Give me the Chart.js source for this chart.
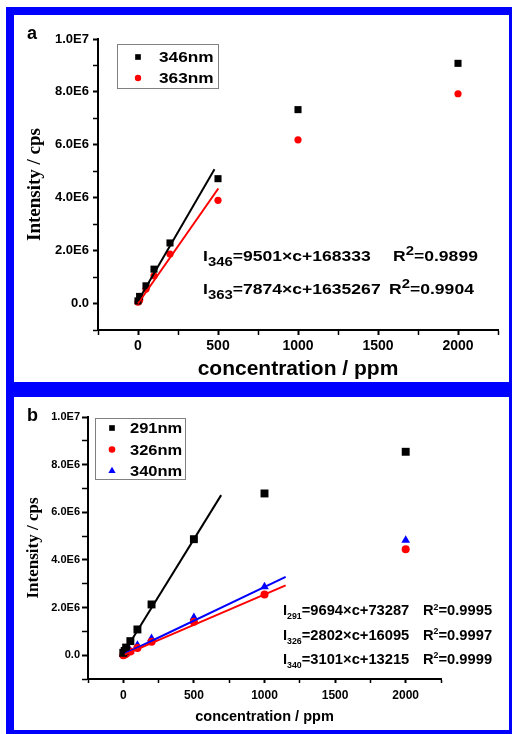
<!DOCTYPE html>
<html>
<head>
<meta charset="utf-8">
<script src="https://cdn.jsdelivr.net/npm/chart.js@4.4.0/dist/chart.umd.min.js"></script>
<style>
  html, body { margin: 0; padding: 0; background: #fff; }
  body { width: 512px; height: 734px; position: relative; overflow: hidden; }
  #frame { position: absolute; left: 6px; top: 7px; width: 506px; height: 727px; background: #0000ff; }
  .panel { position: absolute; left: 14px; width: 495px; background: #fff; }
  #panelA { top: 15px; height: 367px; }
  #panelB { top: 397px; height: 333px; }
  canvas { display: block; }
</style>
</head>
<body>
<div id="frame"></div>
<div class="panel" id="panelA"><canvas id="chartA" width="495" height="367"></canvas></div>
<div class="panel" id="panelB"><canvas id="chartB" width="495" height="333"></canvas></div>
<script>
// panel a - 346 / 363 nm
const concA = [0, 10, 50, 100, 200, 500, 1000, 2000];
const int346 = [0.10e6, 0.27e6, 0.67e6, 1.30e6, 2.29e6, 4.72e6, 7.33e6, 9.08e6];
const int363 = [0.05e6, 0.12e6, 0.55e6, 1.05e6, 1.87e6, 3.90e6, 6.19e6, 7.93e6];
const fit346 = [[0, 0.10e6], [478, 5.08e6]];
const fit363 = [[0, 0.0], [502, 4.35e6]];

// panel b - 291 / 326 / 340 nm
const concB = [0, 10, 20, 50, 100, 200, 500, 1000, 2000];
const int291 = [0.10e6, 0.18e6, 0.32e6, 0.59e6, 1.08e6, 2.13e6, 4.87e6, 6.79e6, 8.54e6];
const int326 = [0.0, 0.03e6, 0.06e6, 0.15e6, 0.30e6, 0.56e6, 1.40e6, 2.55e6, 4.45e6];
const int340 = [0.03e6, 0.06e6, 0.09e6, 0.18e6, 0.42e6, 0.70e6, 1.58e6, 2.87e6, 4.83e6];
const fit291 = [[0, 0.07e6], [693, 6.72e6]];
const fit326 = [[10, 0.02e6], [1150, 2.93e6]];
const fit340 = [[10, 0.06e6], [1150, 3.29e6]];

const xTickValues = [0, 500, 1000, 1500, 2000];
const xTickLabels = ['0', '500', '1000', '1500', '2000'];
const yTickValues = [0, 2e6, 4e6, 6e6, 8e6, 1e7];
const yTickLabels = ['0.0', '2.0E6', '4.0E6', '6.0E6', '8.0E6', '1.0E7'];

// equation text, split in runs: '' normal, 'sub', 'sup'
const eqA = [
  [['I', ''], ['346', 'sub'], ['=9501×c+168333', '']],
  [['I', ''], ['363', 'sub'], ['=7874×c+1635267', '']]
];
const r2A = [
  [['R', ''], ['2', 'sup'], ['=0.9899', '']],
  [['R', ''], ['2', 'sup'], ['=0.9904', '']]
];
const eqB = [
  [['I', ''], ['291', 'sub'], ['=9694×c+73287', '']],
  [['I', ''], ['326', 'sub'], ['=2802×c+16095', '']],
  [['I', ''], ['340', 'sub'], ['=3101×c+13215', '']]
];
const r2B = [
  [['R', ''], ['2', 'sup'], ['=0.9995', '']],
  [['R', ''], ['2', 'sup'], ['=0.9997', '']],
  [['R', ''], ['2', 'sup'], ['=0.9999', '']]
];

const SANS = '"Liberation Sans", Arial, sans-serif';
const SERIF = '"Liberation Serif", "Times New Roman", serif';

function pts(xs, ys) {
  return xs.map(function (x, i) { return { x: x, y: ys[i] }; });
}
function seg(p) {
  return p.map(function (q) { return { x: q[0], y: q[1] }; });
}

function drawMarker(ctx, style, x, y, r) {
  ctx.beginPath();
  if (style === 'rect') {
    const s = r * Math.SQRT1_2;
    ctx.rect(x - s, y - s, 2 * s, 2 * s);
  } else if (style === 'triangle') {
    ctx.moveTo(x, y - r);
    ctx.lineTo(x + r * 0.866, y + r * 0.5);
    ctx.lineTo(x - r * 0.866, y + r * 0.5);
    ctx.closePath();
  } else {
    ctx.arc(x, y, r, 0, Math.PI * 2);
  }
  ctx.fill();
}

function drawRich(ctx, parts, x, y, f) {
  ctx.save();
  ctx.translate(x, y);
  ctx.scale(f.sx, 1);
  let cx = 0;
  parts.forEach(function (p) {
    let size = f.size, dy = 0;
    if (p[1] === 'sub') { size = f.size * f.subScale; dy = f.subDy; }
    if (p[1] === 'sup') { size = f.size * f.supScale; dy = f.supDy; }
    ctx.font = 'bold ' + size + 'px ' + SANS;
    ctx.fillText(p[0], cx, dy);
    cx += ctx.measureText(p[0]).width;
  });
  ctx.restore();
}

// panel letter, framed legend and fit equations
const panelDecor = {
  id: 'panelDecor',
  afterDraw: function (chart, args, o) {
    const ctx = chart.ctx;
    ctx.save();
    ctx.fillStyle = '#000';
    ctx.textBaseline = 'alphabetic';
    ctx.textAlign = 'left';
    ctx.font = 'bold 18px ' + SANS;
    ctx.fillText(o.label, o.labelX, o.labelY);

    const lg = o.legend;
    ctx.strokeStyle = '#808080';
    ctx.lineWidth = 1;
    ctx.strokeRect(lg.x + 0.5, lg.y + 0.5, lg.w, lg.h);
    let row = 0;
    chart.data.datasets.forEach(function (ds) {
      if (!ds.inLegend) return;
      const cy = lg.y + lg.firstRow + row * lg.rowH;
      ctx.fillStyle = ds.backgroundColor;
      drawMarker(ctx, ds.pointStyle, lg.x + lg.markerX, cy, ds.legendR);
      ctx.fillStyle = '#000';
      drawRich(ctx, [[ds.label, '']], lg.x + lg.textX, cy + lg.font.size * 0.36, lg.font);
      row++;
    });

    o.notes.forEach(function (n) {
      n.eq.forEach(function (parts, i) {
        drawRich(ctx, parts, n.x, n.y[i], n.font);
      });
      n.r2.forEach(function (parts, i) {
        drawRich(ctx, parts, n.rx[i], n.y[i], n.font);
      });
    });
    ctx.restore();
  }
};

function nearIndex(list, v) {
  for (let i = 0; i < list.length; i++) {
    if (Math.abs(list[i] - v) < 1e-3 * Math.max(1, Math.abs(v))) return i;
  }
  return -1;
}

function makeScales(s) {
  return {
    x: {
      type: 'linear', min: -250, max: 2250,
      border: { display: true, color: '#000', width: 2 },
      grid: {
        drawOnChartArea: false, drawTicks: true, tickLength: s.xTickLen,
        color: '#000', tickColor: '#000',
        tickWidth: function (c) { return nearIndex(xTickValues, c.tick.value) >= 0 ? 2 : 1.5; }
      },
      ticks: {
        stepSize: 250, autoSkip: false, maxRotation: 0, padding: s.xPad,
        color: '#000', font: { family: SANS, weight: 'bold', size: s.xTickSize },
        callback: function (v) { const i = nearIndex(xTickValues, v); return i >= 0 ? xTickLabels[i] : ''; }
      },
      title: {
        display: true, text: 'concentration / ppm', color: '#000',
        font: { family: SANS, weight: 'bold', size: s.xTitleSize },
        padding: { top: 0, bottom: s.xTitlePad }
      },
      afterFit: function (scale) { scale.height = s.xHeight; }
    },
    y: {
      type: 'linear', min: -1e6, max: 1e7,
      border: { display: true, color: '#000', width: 2 },
      grid: {
        drawOnChartArea: false, drawTicks: true, tickLength: s.yTickLen,
        color: '#000', tickColor: '#000',
        tickWidth: function (c) { return nearIndex(yTickValues, c.tick.value) >= 0 ? 2 : 1.5; }
      },
      ticks: {
        stepSize: 1e6, autoSkip: false, padding: s.yPad,
        color: '#000', font: { family: SANS, weight: 'bold', size: s.yTickSize },
        callback: function (v) { const i = nearIndex(yTickValues, v); return i >= 0 ? yTickLabels[i] : ''; }
      },
      title: {
        display: true, text: 'Intensity / cps', color: '#000',
        font: { family: SERIF, weight: 'bold', size: s.yTitleSize },
        padding: { top: s.yTitlePad, bottom: 0 }
      },
      afterFit: function (scale) { scale.width = s.yWidth; }
    }
  };
}

function pointSet(label, data, color, style, r, legendR) {
  return {
    label: label, data: data, inLegend: true, showLine: false,
    backgroundColor: color, borderColor: color, borderWidth: 0,
    pointStyle: style, pointRadius: r, pointHoverRadius: r, legendR: legendR, order: 2
  };
}
function fitSet(data, color) {
  return {
    label: '', data: data, inLegend: false, showLine: true,
    borderColor: color, backgroundColor: color, borderWidth: 2,
    pointRadius: 0, pointHoverRadius: 0, fill: false, order: 1
  };
}

new Chart(document.getElementById('chartA').getContext('2d'), {
  type: 'scatter',
  data: {
    datasets: [
      pointSet('346nm', pts(concA, int346), '#000000', 'rect', 5, 4),
      pointSet('363nm', pts(concA, int363), '#ff0000', 'circle', 3.6, 3.2),
      fitSet(seg(fit346), '#000000'),
      fitSet(seg(fit363), '#ff0000')
    ]
  },
  options: {
    responsive: false, maintainAspectRatio: false, animation: false,
    layout: { padding: { top: 24, right: 11, left: 0, bottom: 0 } },
    scales: makeScales({
      xTickLen: 5, xPad: 3, xTickSize: 14, xTitleSize: 21, xTitlePad: 0, xHeight: 52,
      yTickLen: 5, yPad: 4, yTickSize: 13, yTitleSize: 19, yTitlePad: 10, yWidth: 84
    }),
    plugins: {
      legend: { display: false },
      tooltip: { enabled: false },
      panelDecor: {
        label: 'a', labelX: 13, labelY: 24,
        legend: { x: 103, y: 29, w: 101, h: 44, firstRow: 13, rowH: 21, markerX: 21, textX: 42,
                  font: { size: 15, sx: 1.15 } },
        notes: [{
          eq: eqA, r2: r2A, x: 189, rx: [379, 375], y: [246, 279],
          font: { size: 15, sx: 1.17, subScale: 0.85, subDy: 5, supScale: 0.85, supDy: -6 }
        }]
      }
    }
  },
  plugins: [panelDecor]
});

new Chart(document.getElementById('chartB').getContext('2d'), {
  type: 'scatter',
  data: {
    datasets: [
      pointSet('291nm', pts(concB, int291), '#000000', 'rect', 5.6, 4),
      pointSet('326nm', pts(concB, int326), '#ff0000', 'circle', 4, 3.3),
      pointSet('340nm', pts(concB, int340), '#0000ff', 'triangle', 5, 4.2),
      fitSet(seg(fit291), '#000000'),
      fitSet(seg(fit326), '#ff0000'),
      fitSet(seg(fit340), '#0000ff')
    ]
  },
  options: {
    responsive: false, maintainAspectRatio: false, animation: false,
    layout: { padding: { top: 20, right: 68, left: 0, bottom: 0 } },
    scales: makeScales({
      xTickLen: 4, xPad: 5, xTickSize: 12, xTitleSize: 14.5, xTitlePad: 4, xHeight: 51,
      yTickLen: 6, yPad: 2, yTickSize: 11, yTitleSize: 17, yTitlePad: 9, yWidth: 74
    }),
    plugins: {
      legend: { display: false },
      tooltip: { enabled: false },
      panelDecor: {
        label: 'b', labelX: 13, labelY: 24,
        legend: { x: 81, y: 21, w: 90, h: 61, firstRow: 10, rowH: 21.5, markerX: 17, textX: 35,
                  font: { size: 15, sx: 1.1 } },
        notes: [{
          eq: eqB, r2: r2B, x: 269, rx: [409, 409, 409], y: [218, 242.5, 266.5],
          font: { size: 14, sx: 1.05, subScale: 0.6, subDy: 4, supScale: 0.6, supDy: -5.5 }
        }]
      }
    }
  },
  plugins: [panelDecor]
});
</script>
</body>
</html>
